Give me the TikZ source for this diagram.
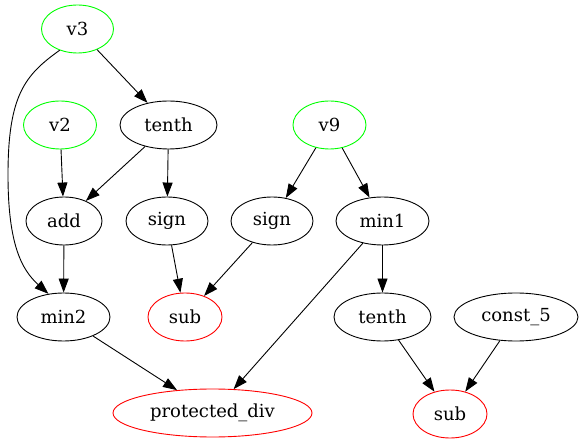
\documentclass[tikz,border=0pt]{standalone}
\usepackage{fontspec}
\setmainfont{DejaVu Serif}
\usetikzlibrary{shapes.geometric,arrows.meta}
\definecolor{ngreen}{RGB}{0,255,0}
\definecolor{nred}{RGB}{255,0,0}
\begin{document}
\begin{tikzpicture}[x=1pt,y=-1pt,
  every node/.style={font=\fontsize{18}{20}\selectfont},
  gn/.style={ellipse,draw,line width=0.9pt,minimum width=#1,minimum height=48pt,inner sep=0pt},
  inp/.style={gn=#1,draw=ngreen},
  outp/.style={gn=#1,draw=nred},
  arc/.style={-{Triangle[length=14pt,width=10pt]},line width=0.9pt}
]
\useasboundingbox (0,0) rectangle (583,443);
% nodes
\node[inp=72] (v3) at (77.5,29) {v3};
\node[inp=73] (v2) at (60,125) {v2};
\node[gn=97] (tenthA) at (168.5,125) {tenth};
\node[inp=73] (v9) at (329.5,125) {v9};
\node[gn=76] (add) at (64,221) {add};
\node[gn=82] (signA) at (167,221) {sign};
\node[gn=82] (signB) at (272,221) {sign};
\node[gn=93] (min1) at (382.5,221) {min1};
\node[gn=93] (min2) at (63.5,317) {min2};
\node[outp=74] (subA) at (185,317) {sub};
\node[gn=97] (tenthB) at (382.5,317) {tenth};
\node[gn=124] (const5) at (516,317) {const\_5};
\node[outp=199] (pdiv) at (212.5,413) {protected\_div};
\node[outp=74] (subB) at (450,414) {sub};
% edges
\draw[arc] (v3.230) .. controls (25,75) and (8,95) .. (8,175)
  .. controls (8,245) and (22,270) .. (min2.123);
\draw[arc] (v3) -- (tenthA);
\draw[arc] (v2) -- (add);
\draw[arc] (tenthA) -- (add);
\draw[arc] (tenthA) -- (signA);
\draw[arc] (v9) -- (signB);
\draw[arc] (v9) -- (min1);
\draw[arc] (add) -- (min2);
\draw[arc] (signA) -- (subA);
\draw[arc] (signB) -- (subA);
\draw[arc] (min1) -- (tenthB);
\draw[arc] (min1) -- (pdiv);
\draw[arc] (min2) -- (pdiv);
\draw[arc] (tenthB) -- (subB);
\draw[arc] (const5) -- (subB);
\end{tikzpicture}
\end{document}
